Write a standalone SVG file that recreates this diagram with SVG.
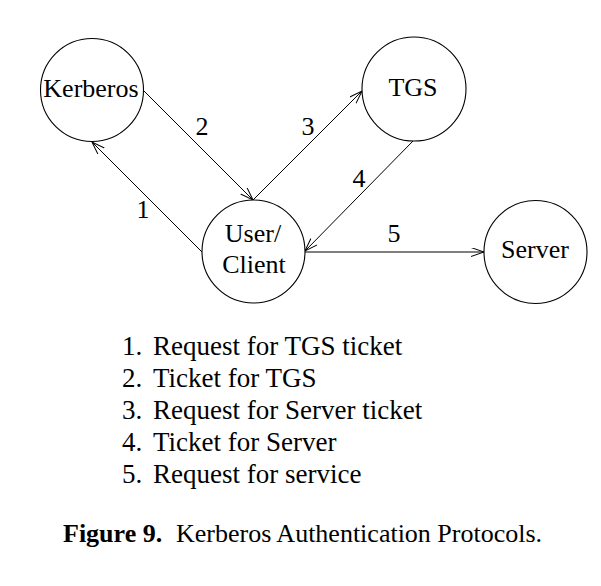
<svg xmlns="http://www.w3.org/2000/svg" width="601" height="586" viewBox="0 0 601 586">
<style>
.node circle{fill:#fff;stroke:#000;stroke-width:1.1}
text{font-family:"Liberation Serif","Times New Roman",serif;font-size:26px;fill:#000}
#legend text{font-size:27px}
.c{text-anchor:middle}
.conn line{stroke:#000;stroke-width:1;fill:none}
.b{font-weight:bold}
</style>
<defs>
<marker id="arr" markerUnits="userSpaceOnUse" markerWidth="14" markerHeight="10" refX="13" refY="4.5" orient="auto">
<path d="M0,0 L13,4.5 L0,9" fill="none" stroke="#000" stroke-width="1"/>
</marker>
</defs>
<rect width="601" height="586" fill="#fff"/>
<g id="connectors" class="conn">
<line x1="202" y1="252" x2="92" y2="142" marker-end="url(#arr)"/>
<line x1="143" y1="90" x2="253" y2="200" marker-end="url(#arr)"/>
<line x1="253" y1="200" x2="362" y2="91" marker-end="url(#arr)"/>
<line x1="413" y1="141" x2="305" y2="251" marker-end="url(#arr)"/>
<line x1="305" y1="252" x2="484" y2="252" marker-end="url(#arr)"/>
<text class="c" x="143" y="218">1</text>
<text class="c" x="202" y="135">2</text>
<text class="c" x="308" y="135">3</text>
<text class="c" x="359" y="187">4</text>
<text class="c" x="394" y="242">5</text>
</g>
<g id="kerberos" class="node">
<circle cx="92" cy="90" r="51.5"/>
<text class="c" x="91" y="97">Kerberos</text>
</g>
<g id="tgs" class="node">
<circle cx="414" cy="89" r="52"/>
<text class="c" x="413" y="96">TGS</text>
</g>
<g id="client" class="node">
<circle cx="253.5" cy="251.5" r="51.5"/>
<text class="c" x="253" y="242">User/</text>
<text class="c" x="254" y="273">Client</text>
</g>
<g id="server" class="node">
<circle cx="535.5" cy="252" r="51.5"/>
<text class="c" x="535" y="258">Server</text>
</g>
<g id="legend">
<text x="122" y="355">1.</text><text x="153" y="355">Request for TGS ticket</text>
<text x="122" y="387">2.</text><text x="153" y="387">Ticket for TGS</text>
<text x="122" y="419">3.</text><text x="153" y="419">Request for Server ticket</text>
<text x="122" y="451">4.</text><text x="153" y="451">Ticket for Server</text>
<text x="122" y="483">5.</text><text x="153" y="483">Request for service</text>
</g>
<g id="caption">
<text x="63" y="542"><tspan class="b">Figure 9.</tspan></text>
<text x="176" y="542">Kerberos Authentication Protocols.</text>
</g>
</svg>
